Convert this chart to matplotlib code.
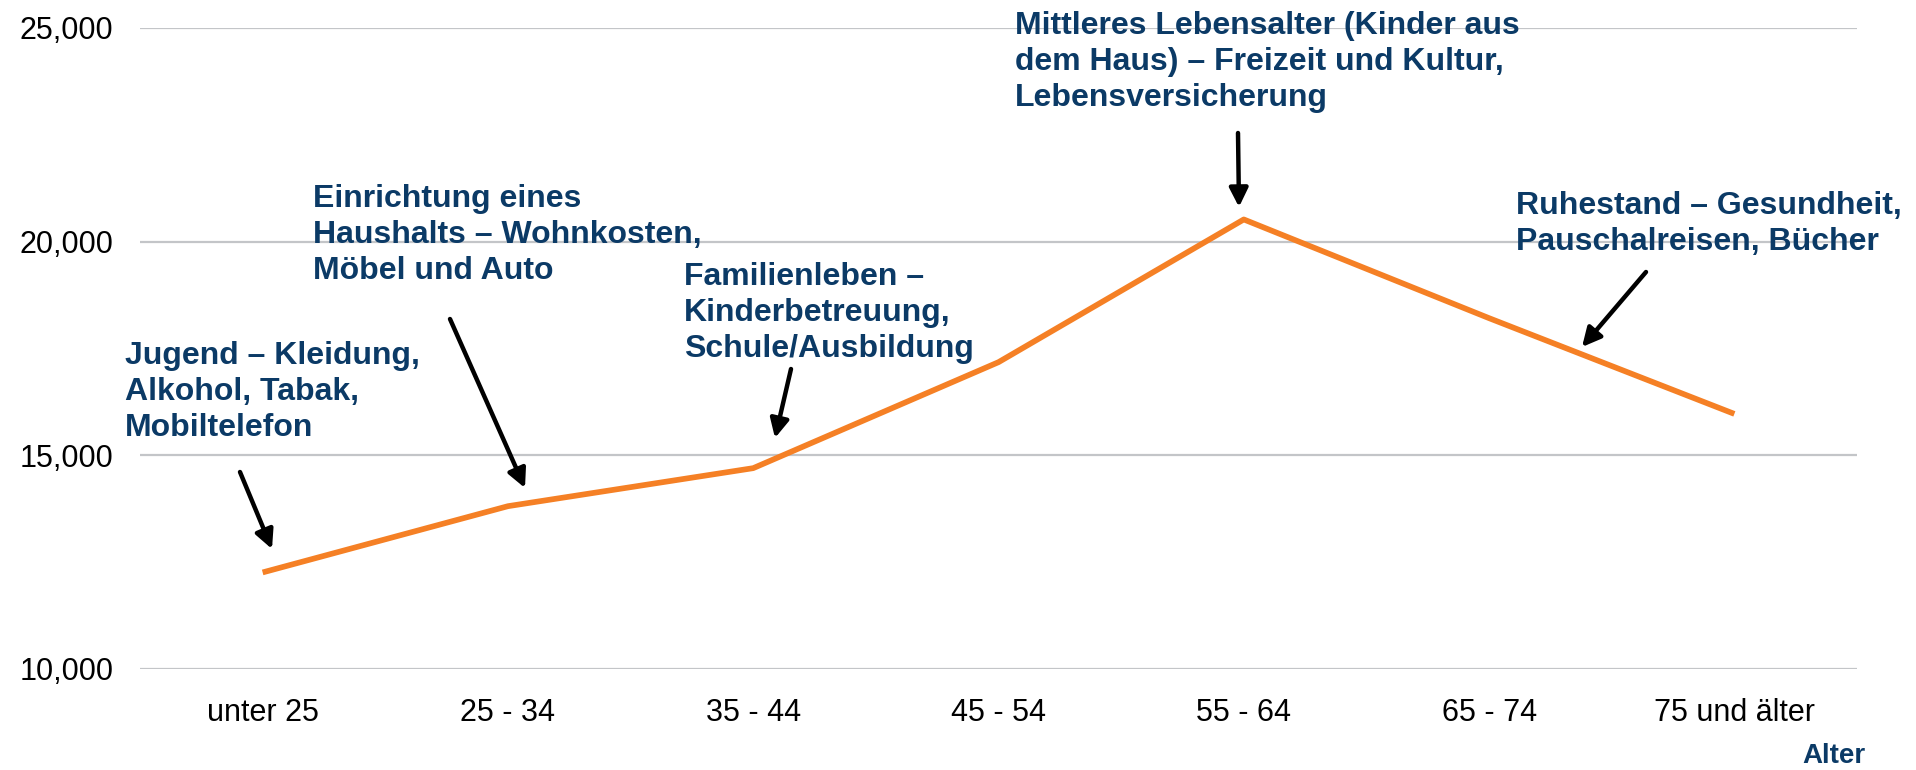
import matplotlib
matplotlib.use('Agg')
import matplotlib.pyplot as plt

# data
alter = ['unter 25', '25 - 34', '35 - 44', '45 - 54', '55 - 64', '65 - 74', '75 und älter']
ausgaben = [12260, 13810, 14700, 17180, 20520, 18210, 15970]
yticks = [10000, 15000, 20000, 25000]
ytick_labels = ['10,000', '15,000', '20,000', '25,000']

notes = [
    'Jugend – Kleidung,\nAlkohol, Tabak,\nMobiltelefon',
    'Einrichtung eines\nHaushalts – Wohnkosten,\nMöbel und Auto',
    'Familienleben –\nKinderbetreuung,\nSchule/Ausbildung',
    'Mittleres Lebensalter (Kinder aus\ndem Haus) – Freizeit und Kultur,\nLebensversicherung',
    'Ruhestand – Gesundheit,\nPauschalreisen, Bücher',
]

W, H = 1916, 770
plt.rcParams['font.family'] = ['Liberation Sans', 'DejaVu Sans']
navy = '#0b3a66'
orange = '#f58025'

def fpos(x, y):
    # pixel (top-left origin) -> figure fraction
    return (x / W, 1 - y / H)

fig = plt.figure(figsize=(W / 100, H / 100), dpi=100)
ax = fig.add_axes([140 / W, 1 - 669 / H, (1857 - 140) / W, (669 - 28) / H])

ax.plot(range(len(alter)), ausgaben, color=orange, lw=4.1, solid_capstyle='butt', zorder=3)

ax.set_xlim(-0.5, len(alter) - 0.5)
ax.set_ylim(10000, 25000)
ax.set_yticks(yticks)
ax.set_yticklabels(ytick_labels)
ax.set_xticks(range(len(alter)))
ax.set_xticklabels(alter)
ax.tick_params(axis='both', length=0, labelsize=22, colors='black')
ax.tick_params(axis='y', pad=19)
ax.tick_params(axis='x', pad=21)
ax.grid(axis='y', color='#c3c5c8', lw=1.6)
ax.set_axisbelow(True)
for s in ax.spines.values():
    s.set_visible(False)

# annotation text (left, cap top) and arrows (tail -> tip), pixel layout
text_pos = [(125, 342), (313, 185), (684, 263), (1015, 12), (1516, 192)]
arrows = [((240, 472), (272, 549)),
          ((450, 319), (525, 488)),
          ((791, 369), (775, 438)),
          ((1238, 133), (1239, 207)),
          ((1646, 272), (1582, 347))]

for txt, (x, y) in zip(notes, text_pos):
    fig.text(*fpos(x, y - 1), txt, ha='left', va='top', fontsize=23,
             fontweight='bold', color=navy, linespacing=1.27)

for tail, tip in arrows:
    fig.add_artist(matplotlib.patches.FancyArrowPatch(
        fpos(*tail), fpos(*tip), transform=fig.transFigure,
        arrowstyle='-|>', mutation_scale=28, lw=3.2, color='black',
        shrinkA=0, shrinkB=0))

fig.text(*fpos(1865, 756), 'Alter', ha='right', va='center', fontsize=20,
         fontweight='bold', color=navy)

fig.savefig('out.png', dpi=100)
plt.close(fig)
